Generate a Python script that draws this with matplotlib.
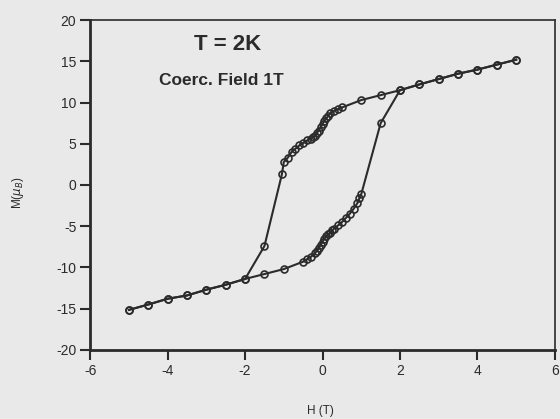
import matplotlib
matplotlib.use('Agg')
from matplotlib import pyplot as plt

# descending branch, +5 T down to -5 T
h_down = [5, 4.5, 4, 3.5, 3, 2.5, 2, 1.5, 1, 0.5, 0.4, 0.3, 0.2, 0.15, 0.1, 0.05, 0,
          -0.05, -0.1, -0.15, -0.2, -0.25, -0.3, -0.4, -0.5, -0.6, -0.7, -0.8, -0.9,
          -1.0, -1.05, -1.5, -2, -2.5, -3, -3.5, -4, -4.5, -5]
m_down = [15.2, 14.6, 14.0, 13.5, 12.85, 12.2, 11.5, 10.9, 10.3, 9.4, 9.2, 9.0, 8.7, 8.4,
          8.1, 7.8, 7.4, 7.0, 6.6, 6.3, 6.0, 5.8, 5.6, 5.4, 5.1, 4.8, 4.4, 4.0, 3.3,
          2.8, 1.3, -7.4, -11.4, -12.1, -12.7, -13.4, -13.8, -14.5, -15.15]

# ascending branch, -5 T back up to +5 T
h_up = [-5, -4.5, -4, -3.5, -3, -2.5, -2, -1.5, -1, -0.5, -0.4, -0.3, -0.2, -0.15, -0.1,
        -0.05, 0, 0.05, 0.1, 0.15, 0.2, 0.25, 0.3, 0.4, 0.5, 0.6, 0.7, 0.8, 0.9, 0.95,
        1.0, 1.5, 2, 2.5, 3, 3.5, 4, 4.5, 5]
m_up = [-15.15, -14.5, -13.8, -13.4, -12.7, -12.1, -11.4, -10.8, -10.2, -9.3, -9.0, -8.7,
        -8.3, -8.0, -7.7, -7.3, -6.9, -6.5, -6.2, -6.0, -5.8, -5.5, -5.3, -4.9, -4.5,
        -4.0, -3.5, -2.9, -2.2, -1.6, -1.1, 7.5, 11.5, 12.2, 12.85, 13.5, 14.0, 14.6, 15.2]

bg = '#e9e9e9'
ink = '#2b2b2b'
plt.rcParams['font.family'] = ['Liberation Sans', 'DejaVu Sans']
plt.rcParams['axes.unicode_minus'] = False

fig = plt.figure(figsize=(5.6, 4.19), dpi=100, facecolor=bg)
ax = fig.add_axes([0.161, 0.165, 0.83, 0.787], facecolor=bg)

for h, m in [(h_down, m_down), (h_up, m_up)]:
    ax.plot(h, m, color=ink, lw=1.5, marker='o', ms=5, mfc='none', mec=ink, mew=1.2)

ax.set_xlim(-6, 6)
ax.set_ylim(-20, 20)
ax.set_xticks([-6, -4, -2, 0, 2, 4, 6])
ax.set_yticks([-20, -15, -10, -5, 0, 5, 10, 15, 20])
ax.tick_params(direction='out', length=7, width=1.5, colors=ink, labelsize=10, pad=3)

for s in ax.spines.values():
    s.set_color(ink)
    s.set_linewidth(1.2)
ax.spines['left'].set_linewidth(2)
ax.spines['bottom'].set_linewidth(2)

ax.text(-2.45, 17.0, 'T = 2K', fontsize=16, fontweight='bold', color=ink,
        ha='center', va='center')
ax.text(-2.6, 12.7, 'Coerc. Field 1T', fontsize=12.5, fontweight='bold', color=ink,
        ha='center', va='center')

fig.text(0.032, 0.54, r'M($\mu_B$)', rotation=90, fontsize=8.5, color=ink,
         ha='center', va='center')
fig.text(0.572, 0.02, 'H (T)', fontsize=8.5, color=ink, ha='center', va='center')

fig.savefig('out.png', dpi=100, facecolor=bg)
